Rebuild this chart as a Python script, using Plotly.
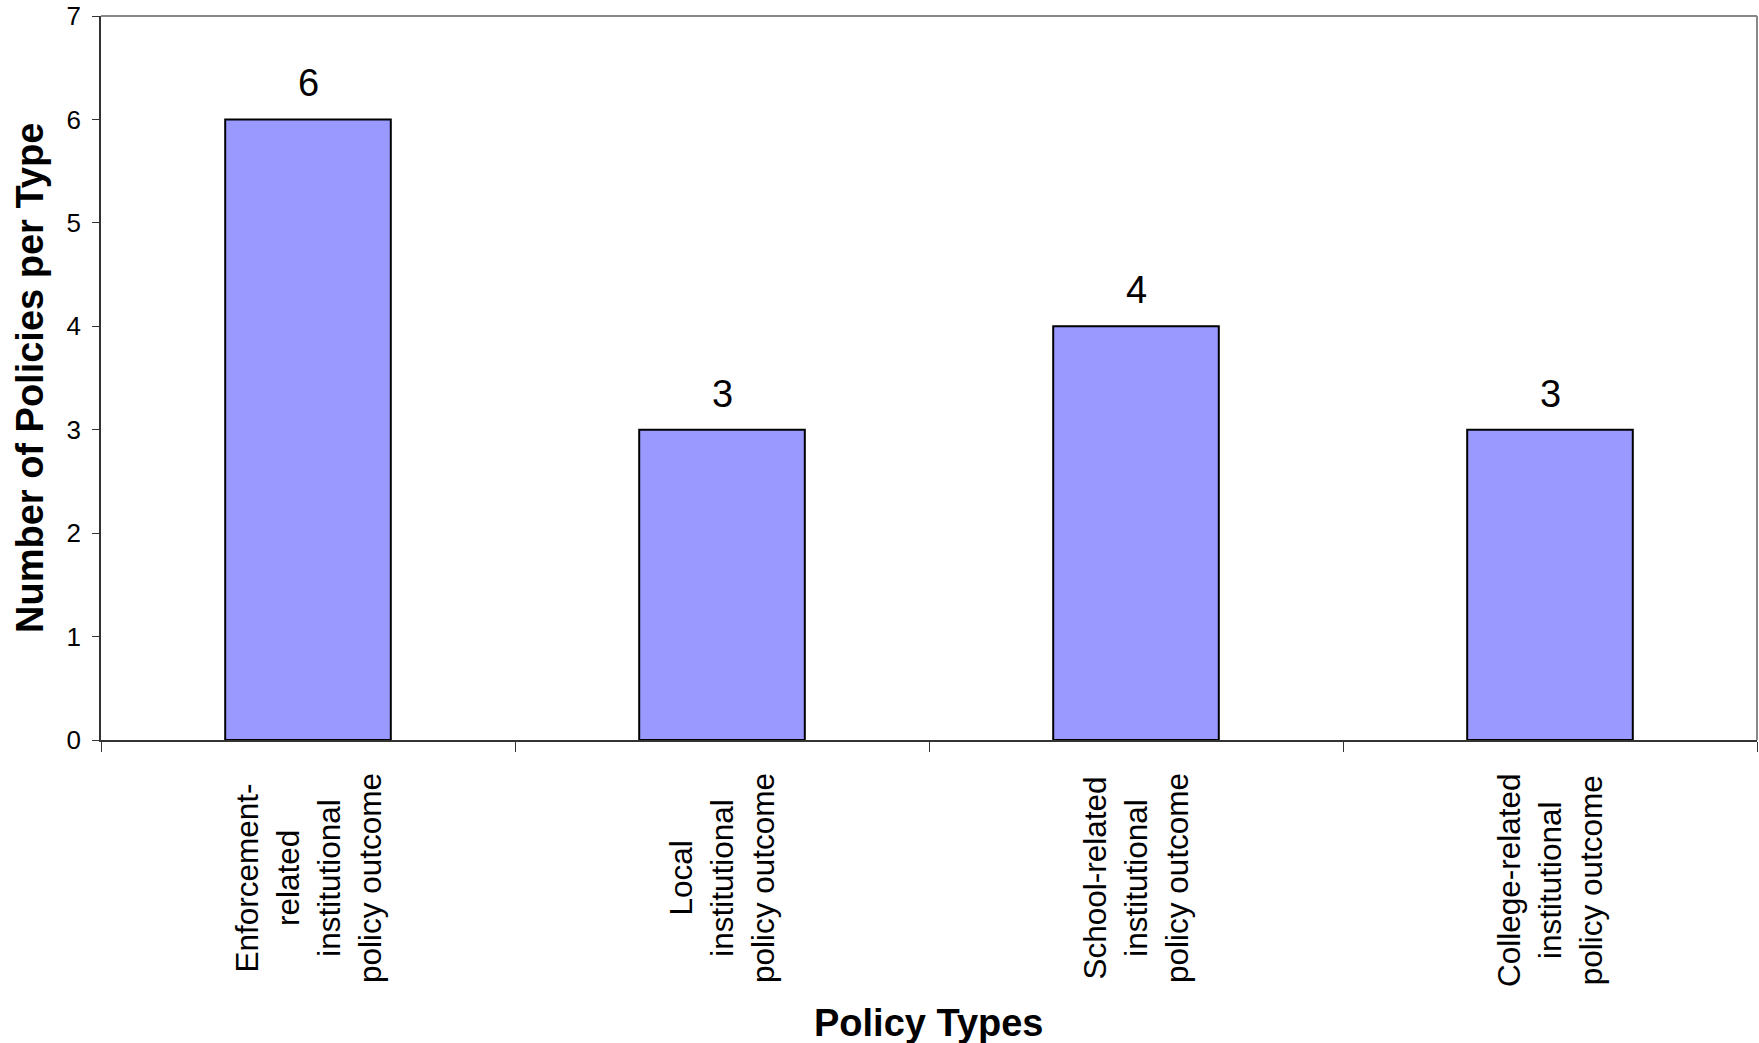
import plotly.graph_objects as go

categories = [
    "Enforcement-<br>related<br>institutional<br>policy outcome",
    "Local<br>institutional<br>policy outcome",
    "School-related<br>institutional<br>policy outcome",
    "College-related<br>institutional<br>policy outcome",
]
values = [6, 3, 4, 3]
y_ticks = [0, 1, 2, 3, 4, 5, 6, 7]
x_title = "Policy Types"
y_title = "Number of Policies per Type"

FONT = "Arial, Liberation Sans, sans-serif"
xpos = list(range(len(categories)))

fig = go.Figure()
fig.add_trace(go.Bar(
    x=xpos, y=values, width=0.4,
    marker=dict(color="#9999FF", line=dict(color="black", width=2)),
    hoverinfo="skip",
))

annotations = []
for xi, v in zip(xpos, values):
    annotations.append(dict(
        x=xi, y=v, xref="x", yref="y", text=str(v), showarrow=False,
        yanchor="middle", yshift=36, font=dict(family=FONT, size=38, color="black"),
    ))
for xi, c in zip(xpos, categories):
    annotations.append(dict(
        x=xi, y=0, xref="x", yref="y", text=c, showarrow=False,
        textangle=-90, align="center", yanchor="top", yshift=-31,
        font=dict(family=FONT, size=31.5, color="black"),
    ))
annotations.append(dict(
    x=0.5, y=0, xref="paper", yref="paper", text="<b>" + x_title + "</b>",
    showarrow=False, yanchor="middle", yshift=-283,
    font=dict(family=FONT, size=38, color="black"),
))
annotations.append(dict(
    x=0, y=0.5, xref="paper", yref="paper", text="<b>" + y_title + "</b>",
    showarrow=False, textangle=-90, xanchor="center", xshift=-71,
    font=dict(family=FONT, size=38, color="black"),
))

fig.update_layout(
    width=1759, height=1043,
    margin=dict(l=101, r=2, t=16, b=303),
    paper_bgcolor="white", plot_bgcolor="white",
    showlegend=False,
    annotations=annotations,
    shapes=[
        dict(type="line", xref="paper", yref="paper", x0=0, x1=1, y0=1, y1=1,
             line=dict(color="#888888", width=2)),
        dict(type="line", xref="paper", yref="paper", x0=1, x1=1, y0=0, y1=1,
             line=dict(color="#888888", width=2)),
    ],
    xaxis=dict(
        range=[-0.5, len(categories) - 0.5],
        tickvals=[i - 0.5 for i in range(len(categories) + 1)],
        ticktext=[""] * (len(categories) + 1),
        ticks="outside", ticklen=10, tickcolor="#333333", tickwidth=1,
        showline=True, linecolor="#333333", linewidth=1.5,
        showgrid=False, zeroline=False,
    ),
    yaxis=dict(
        range=[0, 7],
        tickvals=y_ticks,
        ticks="outside", ticklen=7, tickcolor="#333333", tickwidth=1,
        showline=True, linecolor="#333333", linewidth=1.5,
        showgrid=False, zeroline=False,
        tickfont=dict(family=FONT, size=26, color="black"),
        ticklabelstandoff=6,
        ticklabeloverflow="allow",
    ),
)

fig.write_html(
    "out.html",
    config={"displayModeBar": False},
    post_script="document.body.style.margin='0';document.body.style.overflow='hidden';",
)
